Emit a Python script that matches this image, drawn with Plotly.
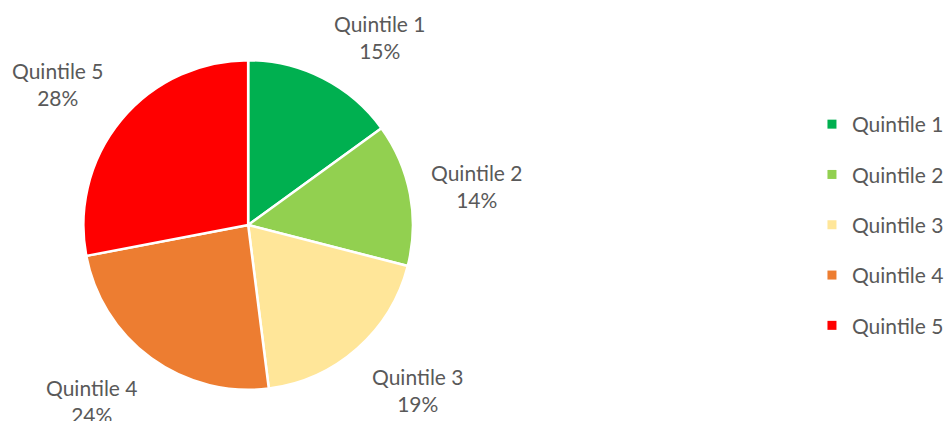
import math
import plotly.graph_objects as go

labels = ["Quintile 1", "Quintile 2", "Quintile 3", "Quintile 4", "Quintile 5"]
values = [15, 14, 19, 24, 28]
colors = ["#00B050", "#92D050", "#FFE699", "#ED7D31", "#FF0000"]

W, H = 949, 421
CX, CY, R = 250, 225, 166
FONT = "Lato"
FS = 21
TXT = "#595959"

fig = go.Figure()
fig.add_trace(go.Pie(
    labels=labels, values=values, sort=False, direction="clockwise", rotation=0,
    marker=dict(colors=colors, line=dict(color="white", width=2.5)),
    textinfo="none", showlegend=False, hoverinfo="label+percent",
    domain=dict(x=[(CX - R) / W, (CX + R) / W], y=[1 - (CY + R) / H, 1 - (CY - R) / H]),
))

# Outside data labels placed from slice mid-angles
total = sum(values)
cum = 0
for lab, v in zip(labels, values):
    mid = (cum + v / 2) / total * 2 * math.pi
    cum += v
    s, c = math.sin(mid), math.cos(mid)
    ra = 1.12 * R
    px, py = CX + ra * s, CY - ra * c
    xa = "left" if s > 0.3 else ("right" if s < -0.3 else "center")
    ya = "bottom" if c > 0.3 else ("top" if c < -0.3 else "middle")
    ys = {"bottom": -6, "top": 2, "middle": 4}[ya]
    fig.add_annotation(
        x=px / W, y=1 - py / H, xref="paper", yref="paper",
        text=f"{lab}<br>{round(v / total * 100)}%", showarrow=False,
        xanchor=xa, yanchor=ya, align="center", yshift=ys,
        font=dict(family=FONT, size=FS, color=TXT),
    )

# Legend entries
for lab, col in zip(labels, colors):
    fig.add_trace(go.Scatter(
        x=[None], y=[None], mode="markers", name=lab, legendgroup=lab,
        marker=dict(symbol="square", size=9, color=col), showlegend=True,
    ))

fig.update_layout(
    width=W, height=H,
    margin=dict(l=0, r=0, t=0, b=0),
    paper_bgcolor="white", plot_bgcolor="white",
    xaxis=dict(visible=False), yaxis=dict(visible=False),
    font=dict(family=FONT, size=FS, color=TXT),
    legend=dict(
        x=818 / W, y=1 - 104 / H, xanchor="left", yanchor="top",
        tracegroupgap=20, itemclick=False, itemdoubleclick=False,
        font=dict(family=FONT, size=FS, color=TXT),
    ),
)

fig.write_html("out.html", config={"displayModeBar": False},
               post_script="document.body.style.margin='0';")
